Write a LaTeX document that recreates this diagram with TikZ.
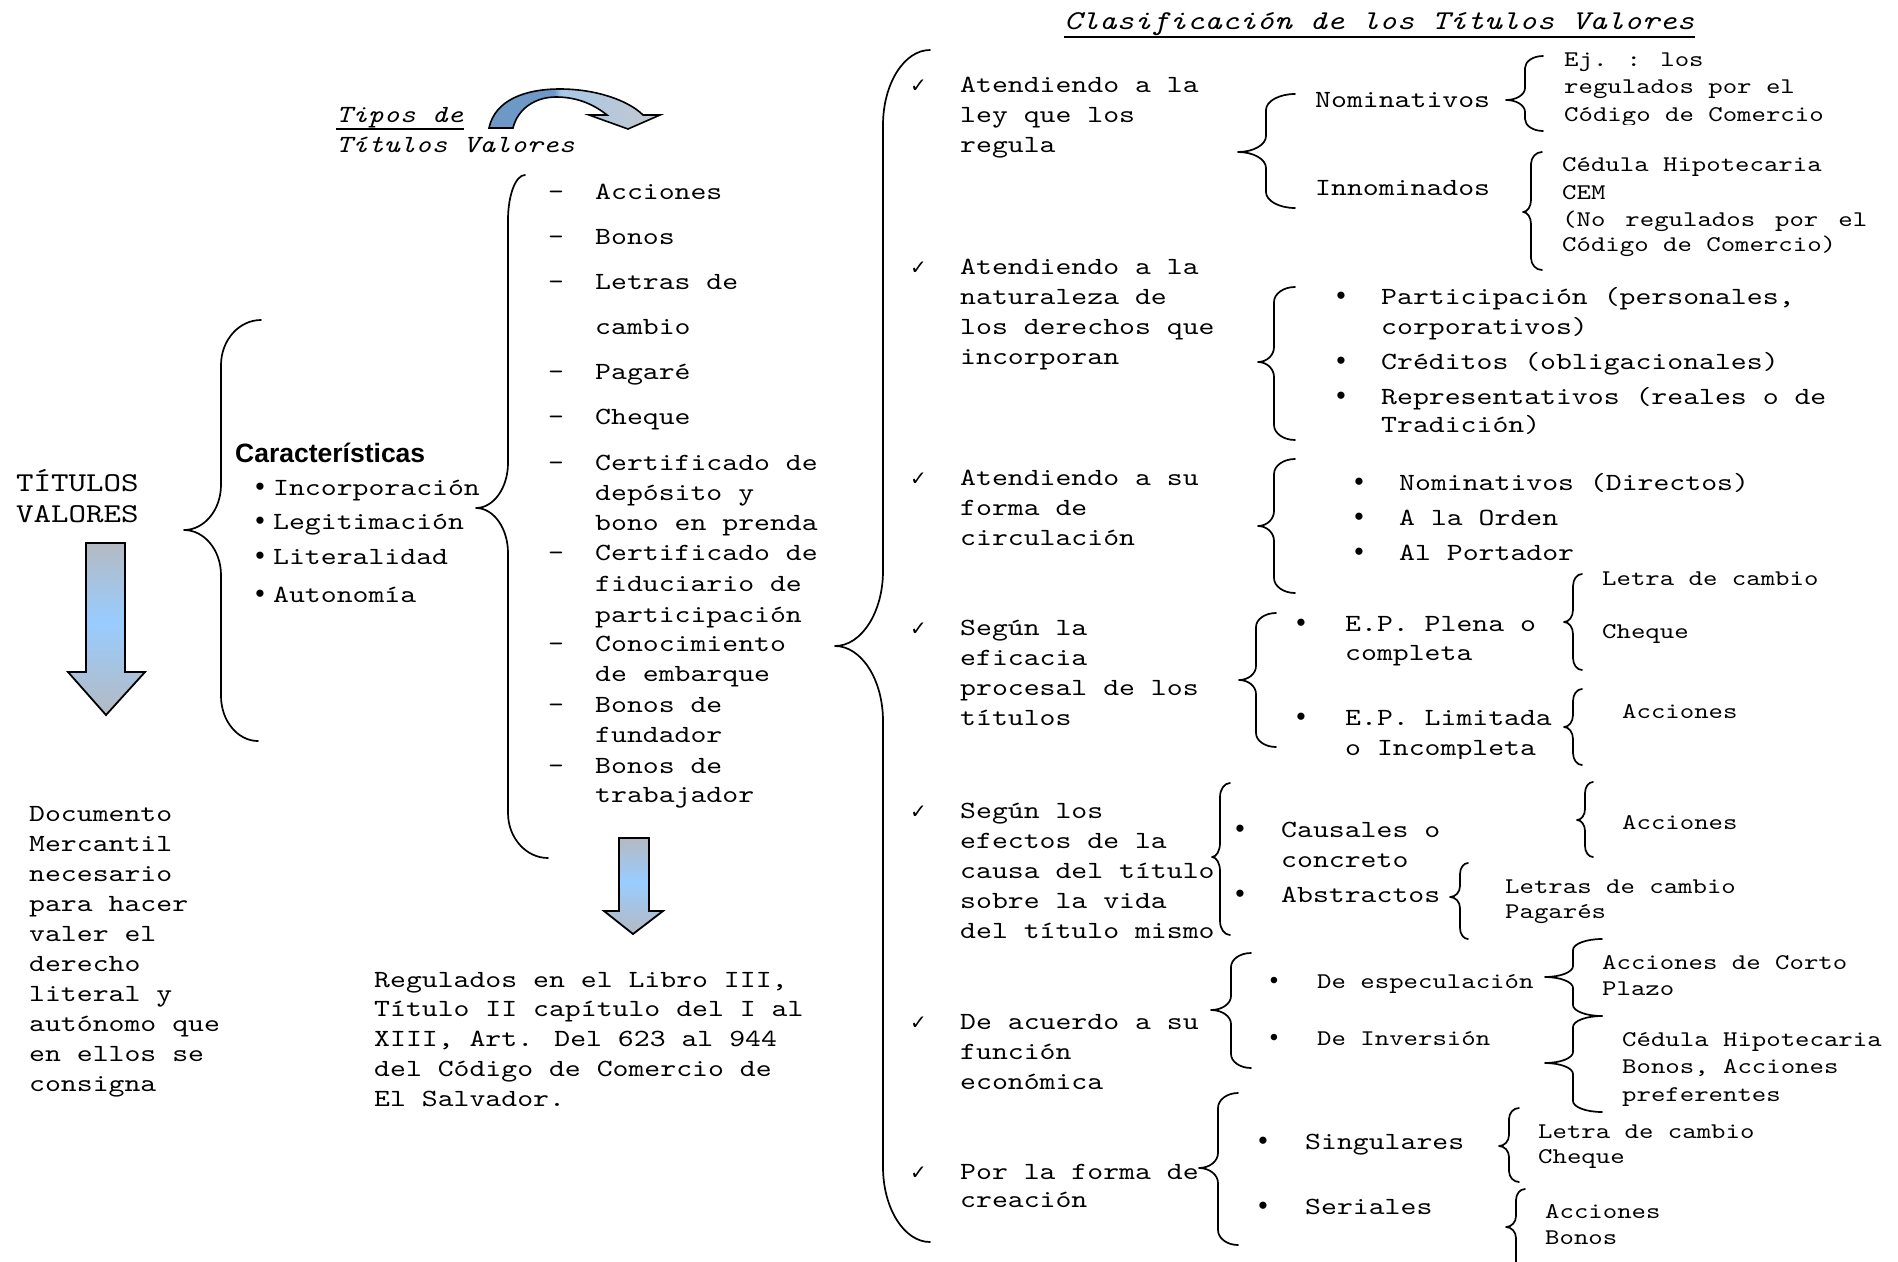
\documentclass[tikz,border=0pt]{standalone}
\usepackage{fontspec}
\setmainfont{lmmono10-regular.otf}[FakeStretch=1.226, ItalicFont=lmmono10-italic.otf]
\newfontfamily\headsans{Liberation Sans}
\newfontfamily\bulletfont{Liberation Mono}
\newfontfamily\symfont{DejaVu Sans}

% font sizes (1pt = one unit of the drawing)
\newcommand\fmain{\fontsize{24.7}{30}\selectfont}
\newcommand\fsmall{\fontsize{22.4}{27}\selectfont}
\newcommand\fbig{\fontsize{27.2}{33}\selectfont}

\definecolor{agray}{RGB}{180,186,194}
\definecolor{ablue}{RGB}{153,204,255}
\definecolor{cdark}{RGB}{110,152,198}
\definecolor{clight}{RGB}{168,200,232}
\definecolor{cgray}{RGB}{196,200,206}

\pgfdeclareverticalshading{arrowfill}{100bp}{color(0bp)=(agray); color(25bp)=(agray); color(52bp)=(ablue); color(75bp)=(agray); color(100bp)=(agray)}
\pgfdeclarehorizontalshading{curvefill}{100bp}{color(0bp)=(cdark); color(44bp)=(cdark); color(46bp)=(clight); color(75bp)=(cgray); color(100bp)=(cgray)}

\tikzset{
  lbl/.style={anchor=base west, inner sep=0pt, font=\fmain},
  slbl/.style={anchor=base west, inner sep=0pt, font=\fsmall},
  blbl/.style={anchor=base west, inner sep=0pt, font=\fbig},
  dot/.style={anchor=base, inner sep=0pt, font=\bulletfont\fontsize{26.5}{30}\selectfont},
  sdot/.style={anchor=base, inner sep=0pt, font=\bulletfont\fontsize{24}{27}\selectfont},
  tick/.style={anchor=base west, inner sep=0pt, font=\symfont\fontsize{20}{20}\selectfont},
  brace/.style={line width=1.7pt, line cap=round, line join=round},
  blockarrow/.style={draw=black, line width=1.8pt, line join=miter, shading=arrowfill},
  rule/.style={line width=1.8pt},
}

% left curly brace: x of the stem, y of top, tip and bottom,
% widths of top hook, tip and bottom hook, radius of the bends
\newcommand\brc[8]{%
  \draw[brace] ({#1+#5},#2) .. controls ({#1+0.45*#5},#2) and (#1,{#2+0.45*#8}) .. (#1,{#2+#8})
    -- (#1,{#3-#8}) .. controls (#1,{#3-0.45*#8}) and ({#1-0.45*#6},#3) .. ({#1-#6},#3)
    .. controls ({#1-0.45*#6},#3) and (#1,{#3+0.45*#8}) .. (#1,{#3+#8})
    -- (#1,{#4-#8}) .. controls (#1,{#4-0.45*#8}) and ({#1+0.45*#7},#4) .. ({#1+#7},#4);%
}

% lines of text: style, name prefix, x, first baseline, line step, list
\newcommand\textlines[6]{%
  \foreach \lineitem [count=\idx] in {#6}{\node[#1] (#2\idx) at (#3,{#4+(\idx-1)*#5}) {\lineitem};}%
}

\begin{document}
\begin{tikzpicture}[x=1pt,y=-1pt]
\fill[white] (0,0) rectangle (1898,1261);
\useasboundingbox (0,0) rectangle (1898,1261);

% ---------- left part ----------
\node[blbl] (tv1) at (16,491) {TÍTULOS};
\node[blbl] (tv2) at (16,522) {VALORES};

\shade[blockarrow] (86,543) -- (125,543) -- (125,672) -- (145,672) -- (106,715) -- (68,672) -- (86,672) -- cycle;

\textlines{lbl}{doc}{29}{821}{30}{Documento,Mercantil,necesario,para hacer,valer el,derecho,literal y,autónomo que,en ellos se,consigna}

\brc{221}{320}{530}{741}{40}{37}{37}{45}

\node[lbl, font=\headsans\bfseries\fontsize{26.5}{30}\selectfont] (car) at (235,462) {Características};
\foreach \yy/\itm [count=\idx] in {495/Incorporación,529/Legitimación,564/Literalidad,602/Autonomía}{
  \node[dot] (cb\idx) at (260,\yy) {•};
  \node[lbl] (ch\idx) at (273,\yy) {\itm};
}

% ---------- types of titles ----------
\node[lbl, font=\fmain\itshape] (tip1) at (336,122) {Tipos de};
\node[lbl, font=\fmain\itshape] (tip2) at (336,152) {Títulos Valores};
\draw[rule] ([yshift=-7pt]tip1.base west) -- ([yshift=-7pt]tip1.base east);

\shade[shading=curvefill, draw=black, line width=1.6pt, line join=miter]
  (489,128) .. controls (495,100) and (525,89) .. (560,89)
  .. controls (595,89) and (628,100) .. (643,115) -- (660,115) -- (628,129) -- (589,115) -- (607,115)
  .. controls (592,103) and (575,97) .. (556,97)
  .. controls (536,97) and (518,108) .. (513,128) -- cycle;

\brc{508}{175}{508}{858}{17}{32}{40}{45}

\foreach \yy in {199,244,289,379,424,470,560,651,712,773}{\node[lbl] at (548,\yy) {-};}
\foreach \yy/\itm [count=\idx] in {199/Acciones,244/Bonos,289/Letras de,334/cambio,379/Pagaré,424/Cheque,470/Certificado de,500/depósito y,530/bono en prenda,560/Certificado de,591/fiduciario de,622/participación,651/Conocimiento,681/de embarque,712/Bonos de,742/fundador,773/Bonos de,802/trabajador}{
  \node[lbl] (ty\idx) at (595,\yy) {\itm};
}

\shade[blockarrow] (619,838) -- (649,838) -- (649,911) -- (663,911) -- (633,934) -- (604,911) -- (619,911) -- cycle;

\textlines{lbl}{reg}{374}{987}{29.8}{{Regulados en el Libro III,},Título II capítulo del I al,{XIII, Art. Del 623 al 944},del Código de Comercio de,El Salvador.}

% ---------- classification ----------
\node[blbl, font=\fbig\itshape] (ttl) at (1064,29) {Clasificación de los Títulos Valores};
\draw[rule] ([yshift=-8pt]ttl.base west) -- ([yshift=-8pt]ttl.base east);

\brc{883}{50}{646}{1242}{47}{48}{47}{75}

\foreach \yy [count=\idx] in {92,274,485,635,818,1029,1179}{\node[tick] (ck\idx) at (910,\yy) {✓};}

\textlines{lbl}{ca}{960}{92}{30}{Atendiendo a la,ley que los,regula}
\textlines{lbl}{cb}{960}{274}{30}{Atendiendo a la,naturaleza de,los derechos que,incorporan}
\textlines{lbl}{cc}{960}{485}{30}{Atendiendo a su,forma de,circulación}
\textlines{lbl}{cd}{960}{635}{30}{Según la,eficacia,procesal de los,títulos}
\textlines{lbl}{ce}{960}{818}{30.2}{Según los,efectos de la,causa del título,sobre la vida,del título mismo}
\textlines{lbl}{cf}{960}{1029}{30}{De acuerdo a su,función,económica}
\textlines{lbl}{cg}{960}{1179}{28}{Por la forma de,creación}

% by the law that governs them
\brc{1266}{94}{152}{208}{29}{28}{29}{16}
\node[lbl] (nom) at (1315,107) {Nominativos};
\node[lbl] (inn) at (1315,195) {Innominados};
\brc{1525}{56}{100}{131}{18}{19}{18}{12}
\node[slbl] (ej1) at (1564,66) {Ej. : los};
\node[slbl] (ej2) at (1564,93.5) {regulados por el};
\begin{scope}
  \clip (1500,0) rectangle (1898,124);
  \node[slbl] (ej3) at (1564,121) {Código de Comercio};
\end{scope}
\brc{1531}{152}{212}{270}{11}{8}{11}{12}
\node[slbl] (ced1) at (1562,171) {Cédula Hipotecaria};
\node[slbl] (ced2) at (1562,199) {CEM};
\node[slbl] (ced3) at (1562,226) {\hbox to 305pt{(No\hfil regulados\hfil por\hfil el}};
\node[slbl] (ced4) at (1562,251) {Código de Comercio)};

% by the nature of the rights
\brc{1274}{287}{362}{440}{21}{16}{21}{15}
\foreach \yy in {304,369,404}{\node[dot] at (1341,\yy) {•};}
\textlines{lbl}{nat}{1381}{304}{30}{{Participación (personales,},corporativos)}
\node[lbl] (nat3) at (1381,369) {Créditos (obligacionales)};
\node[lbl] (nat4) at (1381,404) {Representativos (reales o de};
\node[lbl] (nat5) at (1381,432) {Tradición)};

% by the way they circulate
\brc{1274}{459}{526}{593}{21}{16}{21}{15}
\foreach \yy/\itm [count=\idx] in {490/Nominativos (Directos),525/A la Orden,560/Al Portador}{
  \node[dot] at (1359,\yy) {•};
  \node[lbl] (cir\idx) at (1399,\yy) {\itm};
}

% procedural effectiveness
\brc{1256}{613}{680}{747}{20}{17}{20}{14}
\node[dot] at (1301,631) {•};
\node[dot] at (1301,725) {•};
\node[lbl] (ep1) at (1345,631) {E.P. Plena o};
\node[lbl] (ep2) at (1345,660) {completa};
\node[lbl] (ep3) at (1345,725) {E.P. Limitada};
\begin{scope}
  \clip (1300,700) rectangle (1560,758);
  \node[lbl] (ep4) at (1345,755) {o Incompleta};
\end{scope}
\brc{1573}{574}{622}{670}{9}{9}{9}{12}
\node[slbl] (epa) at (1602,585) {Letra de cambio};
\node[slbl] (epb) at (1602,638) {Cheque};
\brc{1573}{689}{727}{765}{9}{9}{9}{12}
\node[slbl] (epc) at (1622,718) {Acciones};

% effects of the cause
\brc{1220}{783}{857}{935}{10}{8}{10}{14}
\node[dot] at (1240,837) {•};
\node[dot] at (1240,902) {•};
\node[lbl] (cau1) at (1281,837) {Causales o};
\node[lbl] (cau2) at (1281,867) {concreto};
\node[lbl] (cau3) at (1281,902) {Abstractos};
\brc{1585}{782}{820}{857}{8}{8}{8}{11}
\begin{scope}
  \clip (1600,780) rectangle (1898,831);
  \node[slbl] (cau4) at (1622,829) {Acciones};
\end{scope}
\brc{1460}{863}{897}{939}{8}{10}{8}{11}
\node[slbl] (cau5) at (1505,893) {Letras de cambio};
\node[slbl] (cau6) at (1505,918) {Pagarés};

% economic function
\brc{1231}{953}{1010}{1068}{20}{20}{20}{14}
\node[sdot] at (1274,988) {•};
\node[sdot] at (1274,1045) {•};
\node[slbl] (eco1) at (1317,988) {De especulación};
\node[slbl] (eco2) at (1317,1045) {De Inversión};
\brc{1573}{939}{977}{1016}{29}{28}{29}{11}
\brc{1573}{1016}{1063}{1112}{29}{28}{29}{11}
\node[slbl] (eco3) at (1602,969) {Acciones de Corto};
\node[slbl] (eco4) at (1602,995) {Plazo};
\node[slbl] (eco5) at (1622,1046) {Cédula Hipotecaria};
\node[slbl] (eco6) at (1622,1073) {Bonos, Acciones};
\begin{scope}
  \clip (1600,1080) rectangle (1898,1105);
  \node[slbl] (eco7) at (1622,1101) {preferentes};
\end{scope}

% form of creation
\brc{1218}{1093}{1168}{1245}{20}{19}{20}{15}
\node[dot] at (1263,1149) {•};
\node[dot] at (1263,1214) {•};
\node[lbl] (cre1) at (1305,1149) {Singulares};
\node[lbl] (cre2) at (1305,1214) {Seriales};
\brc{1509}{1108}{1146}{1182}{10}{10}{10}{11}
\node[slbl] (cre3) at (1538,1138) {Letra de cambio};
\node[slbl] (cre4) at (1538,1163) {Cheque};
\brc{1516}{1189}{1227}{1285}{9}{10}{9}{11}
\node[slbl] (cre5) at (1545,1218) {Acciones};
\node[slbl] (cre6) at (1545,1244) {Bonos};
\end{tikzpicture}
\end{document}
